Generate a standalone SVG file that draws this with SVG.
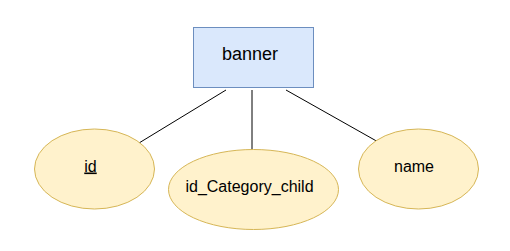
<svg xmlns="http://www.w3.org/2000/svg" width="510" height="251" viewBox="0 0 510 251">
  <style>
    .entity { fill: #dae8fc; stroke: #6c8ebf; stroke-width: 1; }
    .attr { fill: #fff2cc; stroke: #d6b656; stroke-width: 1; }
    .link { stroke: #000; stroke-width: 1; fill: none; }
    text { font-family: "Liberation Sans", Arial, sans-serif; fill: #000; text-anchor: middle; }
  </style>
  <rect width="510" height="251" fill="#fff"/>
  <g id="connectors">
    <line class="link" x1="226" y1="90" x2="139" y2="143"/>
    <line class="link" x1="252" y1="90" x2="252" y2="150"/>
    <line class="link" x1="286" y1="90" x2="380" y2="143"/>
  </g>
  <g id="banner">
    <rect class="entity" x="193.5" y="27.5" width="120" height="60"/>
    <text x="250" y="60" font-size="18">banner</text>
  </g>
  <g id="attr-id">
    <ellipse class="attr" cx="94.5" cy="169" rx="60" ry="40"/>
    <text x="90.5" y="171.5" font-size="16" text-decoration="underline">id</text>
  </g>
  <g id="attr-id-category-child">
    <ellipse class="attr" cx="253.5" cy="189.5" rx="85" ry="40"/>
    <text x="249.5" y="191.5" font-size="16">id_Category_child</text>
  </g>
  <g id="attr-name">
    <ellipse class="attr" cx="418.5" cy="169" rx="60" ry="40"/>
    <text x="414" y="171.5" font-size="16">name</text>
  </g>
</svg>
